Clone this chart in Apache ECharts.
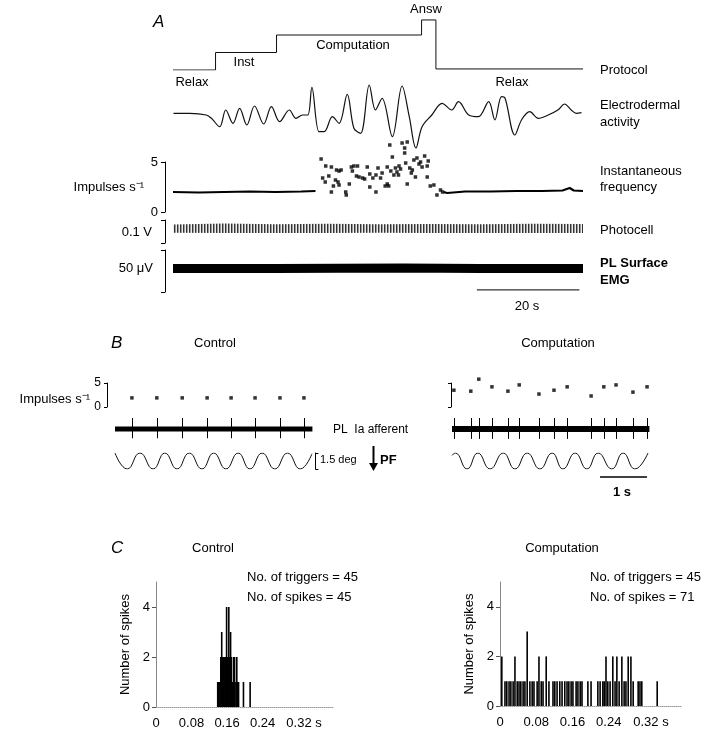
<!DOCTYPE html>
<html><head><meta charset="utf-8">
<script src="https://cdn.jsdelivr.net/npm/echarts@6/dist/echarts.min.js"></script>
<style>html,body{margin:0;padding:0;background:#fff}#c{width:720px;height:734px}</style>
</head><body><div id="c"></div>
<script>
// ---------------- DATA ----------------
// Panel A, time in s (0..80)
const protocolSteps = [[0,0],[8.3,1],[20.2,2],[48.5,2.86],[51.3,0.06],[80,0.06]];
const protocolLabels = ['Relax','Inst','Computation','Answ','Relax'];
const edaTrace = [[0.1,1.7],[3.3,1.7],[6.5,0],[7.5,-3.3],[9.1,-11.7],[10.3,5],[11.7,-8.3],[13.0,6.7],[14.4,-10],[15.9,9],[17.7,-9],[19.2,8.3],[20.8,-6.7],[22.7,5],[24.0,-3.3],[25.3,0],[26.3,0],[27.1,27.7],[28.5,-16.7],[29.5,-16.7],[31.1,-1.7],[32.4,-8.3],[34.0,20.7],[35.3,-13.3],[36.6,-18.3],[38.3,30],[39.5,5],[40.8,16.7],[42.8,-21.7],[44.7,29],[46.1,-1.7],[47.4,-33],[48.6,-11.7],[50.5,0],[52.5,11.7],[54.4,5],[55.7,13.3],[57.7,0],[59.6,-1.7],[61.6,13.3],[62.8,-5],[64.1,18.3],[64.8,16.7],[66.7,-20],[68.0,-5],[69.6,3.3],[71.3,-3.3],[73.2,0],[75.1,5],[76.4,11],[77.7,5],[78.7,1.7],[79.7,2.3]];
const freqBaselineLeft = [[0,2.0],[5,1.95],[10,2.0],[15,2.05],[20,2.0],[25,2.05],[27.8,2.1]];
const freqBaselineRight = [[52.8,2.0],[53.5,1.9],[57,2.05],[62,2.05],[67,2.1],[72,2.1],[76,2.15],[77.4,2.4],[78.2,2.15],[80,2.1]];
const freqComputation = [[28.9,5.3],[29.8,4.6],[30.9,4.5],[31.9,4.2],[32.4,4.1],[32.8,4.2],[29.2,3.4],[29.7,3.0],[30.4,3.6],[31.7,3.2],[32.2,3.0],[31.3,2.6],[30.9,2.0],[33.7,2.0],[33.8,1.7],[34.4,2.8],[34.8,4.5],[35.3,4.6],[35.0,4.1],[36.0,4.6],[35.8,3.6],[36.3,3.5],[37.0,3.4],[37.4,3.3],[37.9,4.5],[38.4,3.8],[38.4,2.5],[39.0,3.4],[39.6,2.0],[40.0,4.4],[40.5,3.4],[39.6,3.7],[40.8,3.9],[41.4,2.6],[41.8,2.8],[42.1,2.6],[42.3,6.7],[41.8,4.5],[42.5,4.1],[42.8,5.5],[43.1,3.7],[43.4,4.4],[43.7,4.0],[44.1,4.6],[44.0,3.7],[44.4,4.3],[44.7,6.9],[45.2,6.4],[45.2,5.9],[45.7,7.0],[45.4,4.9],[45.7,2.8],[46.2,4.4],[46.5,3.9],[47.0,5.2],[46.7,4.2],[47.3,3.5],[47.6,5.4],[48.0,4.8],[48.3,5.0],[48.6,4.5],[49.1,5.6],[49.6,4.6],[49.8,5.1],[49.6,3.5],[50.2,2.6],[50.9,2.7],[51.5,1.7],[52.2,2.2],[52.6,2.0],[32.4,2.7]];
const photocellTimes = [0,10,20,30,40,50,60,70,80];
const photocellUpper = [0.80,0.85,0.82,0.84,0.81,0.83,0.82,0.84,0.83];
const photocellLower = [0.45,0.43,0.44,0.43,0.45,0.43,0.44,0.43,0.44];
const emgTrace = [[0,0.56],[20,0.56],[45,0.57],[60,0.56],[80,0.56]];
const scaleBarA = [59.3, 79.3];          // 20 s

// Panel B, time in s
const bControlSpikes = [0.36,0.89,1.43,1.96,2.47,2.98,3.51,4.02];
const bControlFreq   = [1.9,1.9,1.9,1.9,1.9,1.9,1.9,1.9];
const bCompSpikes = [0.04,0.40,0.57,0.85,1.19,1.43,1.85,2.17,2.45,2.96,3.23,3.49,3.85,4.15];
const bCompFreq   = [3.5,3.3,5.8,4.2,3.3,4.6,2.7,3.5,4.2,2.3,4.2,4.6,3.1,4.2];
const bControlSine = [[0,1],[0.26,-1],[0.53,1],[0.81,-1],[1.06,1],[1.32,-1],[1.58,1],[1.85,-1],[2.1,1],[2.36,-1],[2.62,1],[2.87,-1],[3.13,1],[3.40,-1],[3.67,1],[3.94,-1],[4.19,0.9]];
const bCompSine = [[0,0.7],[0.07,1],[0.32,-1],[0.55,1],[0.81,-1],[1.09,1],[1.34,-1],[1.6,1],[1.87,-1],[2.13,1],[2.36,-1],[2.62,1],[2.87,-1],[3.11,1],[3.40,-1],[3.64,1],[3.89,-1],[4.17,1]];
const bControlAfferent = [[0,0.5],[4.2,0.5]];
const bCompAfferent = [[0,0.5],[4.2,0.5]];
const scaleBarB = [3.15, 4.15];          // 1 s

// Panel C, post-trigger time in s
const histTicks = [0,0.08,0.16,0.24,0.32];
const histControlTimes  = [0.139,0.141,0.143,0.146,0.148,0.150,0.152,0.155,0.157,0.159,0.161,0.164,0.166,0.168,0.170,0.173,0.175,0.177,0.180,0.182,0.184,0.186,0.197,0.212];
const histControlCounts = [1,1,1,2,3,2,2,2,2,4,2,4,2,3,2,1,2,2,1,2,1,1,1,1];
const histCompTimes  = [0.004,0.033,0.060,0.086,0.102,0.234,0.249,0.258,0.269,0.283,0.289,
  0.011,0.015,0.020,0.024,0.029,0.038,0.042,0.046,0.051,0.055,0.066,0.071,0.075,0.082,0.091,0.095,0.108,0.117,0.121,0.126,0.132,0.137,0.143,0.148,0.152,0.157,0.161,0.168,0.172,0.177,0.181,0.194,0.201,0.216,0.221,0.227,0.230,0.238,0.243,0.254,0.263,0.274,0.278,0.294,0.305,0.309,0.313,0.347];
const histCompCounts = [2,2,3,2,2,2,2,2,2,2,2,
  1,1,1,1,1,1,1,1,1,1,1,1,1,1,1,1,1,1,1,1,1,1,1,1,1,1,1,1,1,1,1,1,1,1,1,1,1,1,1,1,1,1,1,1,1,1,1,1];

// ---------------- CHART ----------------
const FONT = '"Liberation Sans", Arial, Helvetica, sans-serif';
const chart = echarts.init(document.getElementById('c'), null, {renderer:'canvas'});

// texture for photocell band
const pat = document.createElement('canvas'); pat.width = 3; pat.height = 2;
const pc = pat.getContext('2d');
pc.fillStyle = '#eee'; pc.fillRect(0,0,3,2);
pc.fillStyle = '#333'; pc.fillRect(0,0,1,2);
pc.fillStyle = '#999'; pc.fillRect(1,0,1,2);

const hide = {show:false};
function xA(grid, min, max){ return {type:'value', gridIndex:grid, min:min, max:max, show:false}; }
function yHidden(grid, min, max){ return {type:'value', gridIndex:grid, min:min, max:max, show:false}; }
function yBracket(grid, min, max, offset, labels, pos, tickLen, fs){
  const tl = tickLen || 4;
  return {type:'value', gridIndex:grid, min:min, max:max, interval:max-min, offset:offset, position:pos||'left',
    axisLine:{show:true, onZero:false, lineStyle:{color:'#000', width:1}},
    axisTick:{show:true, length:tl, lineStyle:{color:'#000'}},
    axisLabel:{show:labels, margin:tl+3, color:'#000', fontSize:fs||13, fontFamily:FONT},
    splitLine:hide};
}
function spikeRender(lo, hi){
  return function(params, api){
    const t = api.value(0);
    const p1 = api.coord([t, lo]); const p2 = api.coord([t, hi]);
    return {type:'line', shape:{x1:Math.round(p1[0])+0.5, y1:p1[1], x2:Math.round(p2[0])+0.5, y2:p2[1]}, style:{stroke:'#000', lineWidth:1}};
  };
}
function bandRender(times, upper, lower, fill){
  return function(params, api){
    const pts = [];
    for (let i = 0; i < times.length; i++) pts.push(api.coord([times[i], upper[i]]));
    for (let i = times.length - 1; i >= 0; i--) pts.push(api.coord([times[i], lower[i]]));
    return {type:'polygon', shape:{points:pts}, style:{fill:fill}};
  };
}
function txt(x, y, text, opts){
  opts = opts || {};
  const font = (opts.italic?'italic ':'') + (opts.bold?'bold ':'') + (opts.size||13) + 'px ' + FONT;
  return {type:'text', x:x, y:y, silent:true, style:{text:text, font:font, fill:'#000',
    align:opts.align||'left', textAlign:opts.align||'left', verticalAlign:'middle', textVerticalAlign:'middle'}};
}

const AL = 173, AW = 410;
const grids = [
  {left:AL, top:17.5, width:AW, height:52.5},   // 0 protocol
  {left:AL, top:80, width:AW, height:70},       // 1 EDA
  {left:AL, top:162, width:AW, height:50},      // 2 inst freq
  {left:AL, top:220, width:AW, height:23},      // 3 photocell
  {left:AL, top:250, width:AW, height:42},      // 4 EMG
  {left:115, top:383, width:197.4, height:24},  // 5 B ctl freq
  {left:115, top:418, width:197.4, height:22},  // 6 B ctl afferent
  {left:115, top:453, width:197.4, height:16},  // 7 B ctl sine
  {left:452, top:383, width:197.4, height:24},  // 8 B comp freq
  {left:452, top:418, width:197.4, height:22},  // 9 B comp afferent
  {left:452, top:453, width:197.4, height:16},  // 10 B comp sine
  {left:156, top:582, width:177.6, height:125}, // 11 C ctl hist
  {left:500, top:582, width:181.2, height:124}  // 12 C comp hist
];

function histX(grid){
  return {type:'value', gridIndex:grid, min:0, max:0.4,
    axisLine:{show:true, onZero:false, lineStyle:{color:'#999', type:'dotted', width:1}},
    axisTick:{show:false}, splitLine:hide,
    axisLabel:{customValues:histTicks, margin:10, color:'#000', fontSize:13, fontFamily:FONT,
      formatter:function(v){ return Math.abs(v-0.32)<1e-9 ? '{p| }0.32 s' : String(v); },
      rich:{p:{width:12}}}};
}
function histY(grid){
  return {type:'value', gridIndex:grid, min:0, max:5,
    name:'Number of spikes', nameLocation:'middle', nameGap:24,
    nameTextStyle:{color:'#000', fontSize:13, fontFamily:FONT},
    axisLine:{show:true, onZero:false, lineStyle:{color:'#888', width:1}},
    axisTick:{show:true, length:4, customValues:[0,2,4], lineStyle:{color:'#555'}},
    axisLabel:{customValues:[0,2,4], margin:6, color:'#000', fontSize:13, fontFamily:FONT},
    splitLine:hide};
}

const xAxes = [
  xA(0,0,80), xA(1,0,80), xA(2,0,80), xA(3,0,80), xA(4,0,80),
  xA(5,0,4.2), xA(6,0,4.2), xA(7,0,4.2), xA(8,0,4.2), xA(9,0,4.2), xA(10,0,4.2),
  histX(11), histX(12)
];
const yAxes = [
  yHidden(0,0,3),
  yHidden(1,-35,35),
  yBracket(2,0,5,8,true,'left',4),
  yBracket(3,0,1,8,false),
  yBracket(4,0,1,8,false),
  yBracket(5,0,5,8,true,'left',3,12),
  yHidden(6,0,1),
  yBracket(7,-1,1,3,false,'right',3),
  yBracket(8,0,5,1,false,'left',3),
  yHidden(9,0,1),
  yHidden(10,-1,1),
  histY(11), histY(12)
];

const black = '#000';
const series = [
  {type:'line', xAxisIndex:0, yAxisIndex:0, data:protocolSteps, step:'end', symbol:'none', lineStyle:{color:'#111', width:1}},
  {type:'line', xAxisIndex:1, yAxisIndex:1, data:edaTrace, smooth:0.35, symbol:'none', lineStyle:{color:'#111', width:1.2}},
  {type:'line', xAxisIndex:2, yAxisIndex:2, data:freqBaselineLeft, symbol:'none', lineStyle:{color:black, width:2.2}},
  {type:'line', xAxisIndex:2, yAxisIndex:2, data:freqBaselineRight, symbol:'none', lineStyle:{color:black, width:2.2}},
  {type:'scatter', xAxisIndex:2, yAxisIndex:2, data:freqComputation, symbol:'rect', symbolSize:3.5, clip:false, itemStyle:{color:black}},
  {type:'custom', xAxisIndex:3, yAxisIndex:3, data:[[0,0]], encode:{x:0,y:1}, clip:false,
    renderItem:bandRender(photocellTimes, photocellUpper, photocellLower, {image:pat, repeat:'repeat'})},
  {type:'line', xAxisIndex:4, yAxisIndex:4, data:emgTrace, symbol:'none', lineStyle:{color:'#000', width:9, cap:'butt'}},
  {type:'line', xAxisIndex:4, yAxisIndex:4, data:scaleBarA.map(t=>[t,0.05]), symbol:'none', clip:false, lineStyle:{color:'#000', width:1}},
  // B control
  {type:'scatter', xAxisIndex:5, yAxisIndex:5, data:bControlSpikes.map((t,i)=>[t,bControlFreq[i]]), symbol:'rect', symbolSize:3.5, itemStyle:{color:black}},
  {type:'line', xAxisIndex:6, yAxisIndex:6, data:bControlAfferent, symbol:'none', lineStyle:{color:'#000', width:5, cap:'butt'}},
  {type:'custom', xAxisIndex:6, yAxisIndex:6, data:bControlSpikes.map(t=>[t,0]), encode:{x:0,y:1}, renderItem:spikeRender(0.08,1.0), clip:false},
  {type:'line', xAxisIndex:7, yAxisIndex:7, data:bControlSine, smooth:0.5, symbol:'none', lineStyle:{color:'#111', width:1}},
  // B computation
  {type:'scatter', xAxisIndex:8, yAxisIndex:8, data:bCompSpikes.map((t,i)=>[t,bCompFreq[i]]), symbol:'rect', symbolSize:3.5, clip:false, itemStyle:{color:black}},
  {type:'line', xAxisIndex:9, yAxisIndex:9, data:bCompAfferent, symbol:'none', lineStyle:{color:'#000', width:6, cap:'butt'}},
  {type:'custom', xAxisIndex:9, yAxisIndex:9, data:bCompSpikes.map(t=>[t,0]), encode:{x:0,y:1}, renderItem:spikeRender(0.05,1.0), clip:false},
  {type:'line', xAxisIndex:10, yAxisIndex:10, data:bCompSine, smooth:0.5, symbol:'none', lineStyle:{color:'#111', width:1}},
  {type:'line', xAxisIndex:10, yAxisIndex:10, data:scaleBarB.map(t=>[t,-2]), symbol:'none', clip:false, lineStyle:{color:'#000', width:1.5}},
  // C
  {type:'bar', xAxisIndex:11, yAxisIndex:11, data:histControlTimes.map((t,i)=>[t,histControlCounts[i]]), barWidth:1.6, itemStyle:{color:'#000'}},
  {type:'bar', xAxisIndex:12, yAxisIndex:12, data:histCompTimes.map((t,i)=>[t,histCompCounts[i]]), barWidth:1.6, itemStyle:{color:'#000'}}
];

const graphics = [
  txt(153,22,'A',{italic:true,size:17}),
  txt(192,82,protocolLabels[0],{align:'center'}),
  txt(244,62,protocolLabels[1],{align:'center'}),
  txt(353,45,protocolLabels[2],{align:'center'}),
  txt(426,9,protocolLabels[3],{align:'center'}),
  txt(512,82,protocolLabels[4],{align:'center'}),
  txt(600,70,'Protocol'),
  txt(600,105,'Electrodermal'),
  txt(600,122,'activity'),
  txt(600,171,'Instantaneous'),
  txt(600,187,'frequency'),
  txt(600,230,'Photocell'),
  txt(600,263,'PL Surface',{bold:true}),
  txt(600,280,'EMG',{bold:true}),
  txt(144,187,'Impulses s\u207B\u00B9',{align:'right'}),
  txt(152,232,'0.1 V',{align:'right'}),
  txt(153,268,'50 \u03BCV',{align:'right'}),
  txt(527,306,'20 s',{align:'center'}),
  txt(111,343,'B',{italic:true,size:17}),
  txt(215,343,'Control',{align:'center'}),
  txt(558,343,'Computation',{align:'center'}),
  txt(90,399,'Impulses s\u207B\u00B9',{align:'right'}),
  txt(333,430,'PL  Ia afferent',{size:12}),
  txt(320,460,'1.5 deg',{size:11}),
  txt(380,460,'PF',{bold:true,size:13}),
  txt(622,492,'1 s',{bold:true,align:'center'}),
  txt(111,548,'C',{italic:true,size:17}),
  txt(213,548,'Control',{align:'center'}),
  txt(562,548,'Computation',{align:'center'}),
  txt(247,577,'No. of triggers = 45'),
  txt(247,597,'No. of spikes = 45'),
  txt(590,577,'No. of triggers = 45'),
  txt(590,597,'No. of spikes = 71'),
  {type:'line', silent:true, shape:{x1:373.5,y1:446,x2:373.5,y2:464}, style:{stroke:'#000', lineWidth:2}},
  {type:'polygon', silent:true, shape:{points:[[369,463],[378,463],[373.5,471]]}, style:{fill:'#000'}}
];

chart.setOption({
  animation:false,
  backgroundColor:'#fff',
  textStyle:{fontFamily:FONT},
  grid:grids, xAxis:xAxes, yAxis:yAxes, series:series, graphic:graphics
});
</script></body></html>
